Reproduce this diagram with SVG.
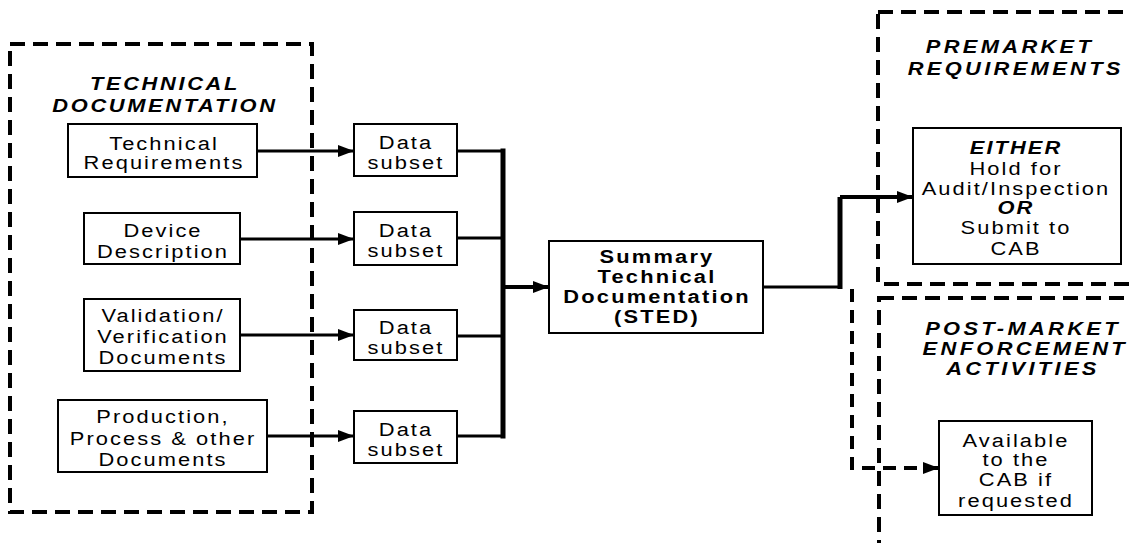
<svg xmlns="http://www.w3.org/2000/svg" width="1131" height="543" viewBox="0 0 1131 543">
<style>
.bg{fill:#fff}
.grp{fill:none;stroke:#000;stroke-width:4;stroke-dasharray:15 8}
.box{fill:#fff;stroke:#000;stroke-width:2}
.t{font-family:"Liberation Sans",Arial,sans-serif;font-size:19px;letter-spacing:1.8px;text-anchor:middle;fill:#000}
.b{font-weight:bold;letter-spacing:1.9px}
.bi{font-weight:bold;font-style:italic}
.ttl{font-family:"Liberation Sans",Arial,sans-serif;font-size:19px;font-weight:bold;font-style:italic;letter-spacing:2.3px;text-anchor:middle;fill:#000}
.ttr{letter-spacing:2.9px}
.ln{fill:none;stroke:#000;stroke-width:3}
.bus{fill:none;stroke:#000;stroke-width:5}
.dl{fill:none;stroke:#000;stroke-width:4;stroke-dasharray:13 8}
</style>
<defs>
<marker id="ah" markerUnits="userSpaceOnUse" markerWidth="16" markerHeight="12" refX="16" refY="6" orient="auto">
<path d="M0,0 L16,6 L0,12 z" fill="#000"/>
</marker>
</defs>
<rect class="bg" x="0" y="0" width="1131" height="543"/>

<g id="technical-documentation">
<rect class="grp" x="10" y="44" width="302" height="468"/>
<text class="ttl" transform="translate(165 0) scale(1.15 1)"><tspan x="0" y="90">TECHNICAL</tspan><tspan x="0" y="112">DOCUMENTATION</tspan></text>
</g>
<g id="premarket">
<rect class="grp" x="878" y="12" width="300" height="272"/>
<text class="ttl ttr" transform="translate(1010 0) scale(1.15 1)"><tspan x="0" y="53">PREMARKET</tspan><tspan x="5" y="75">REQUIREMENTS</tspan></text>
</g>
<g id="postmarket">
<rect class="grp" x="879" y="298" width="300" height="300"/>
<text class="ttl ttr" transform="translate(1023 0) scale(1.15 1)"><tspan x="0" y="335">POST-MARKET</tspan><tspan x="2" y="355">ENFORCEMENT</tspan><tspan x="0" y="375">ACTIVITIES</tspan></text>
</g>

<g id="connectors">
<path class="ln" d="M257,151 H354" marker-end="url(#ah)"/>
<path class="ln" d="M240,239 H354" marker-end="url(#ah)"/>
<path class="ln" d="M240,335 H354" marker-end="url(#ah)"/>
<path class="ln" d="M267,436 H354" marker-end="url(#ah)"/>
<path class="ln" d="M457,151 H503"/>
<path class="ln" d="M457,238 H503"/>
<path class="ln" d="M457,336 H503"/>
<path class="ln" d="M457,436 H503"/>
<path class="bus" d="M503,148.5 V438.5"/>
<path class="ln" d="M503,287 H549" marker-end="url(#ah)" style="stroke-width:4"/>
<path class="ln" d="M763,287 H840"/>
<path class="bus" d="M840,289 V197"/>
<path class="ln" d="M840,197 H913" marker-end="url(#ah)" style="stroke-width:4"/>
<path class="dl" d="M852,289 V468 H939" marker-end="url(#ah)"/>
</g>

<g id="technical-requirements">
<rect class="box" x="68" y="124" width="189" height="53"/>
<text class="t" transform="translate(164 0) scale(1.15 1)"><tspan x="0" y="150">Technical</tspan><tspan x="0" y="169">Requirements</tspan></text>
</g>
<g id="device-description">
<rect class="box" x="84" y="213" width="156" height="51"/>
<text class="t" transform="translate(163 0) scale(1.15 1)"><tspan x="0" y="237">Device</tspan><tspan x="0" y="258">Description</tspan></text>
</g>
<g id="validation">
<rect class="box" x="84" y="299" width="156" height="72"/>
<text class="t" transform="translate(163 0) scale(1.15 1)"><tspan x="0" y="322">Validation/</tspan><tspan x="0" y="343">Verification</tspan><tspan x="0" y="364">Documents</tspan></text>
</g>
<g id="production">
<rect class="box" x="58" y="400" width="209" height="72"/>
<text class="t" transform="translate(163 0) scale(1.15 1)"><tspan x="0" y="423">Production,</tspan><tspan x="0" y="445">Process &amp; other</tspan><tspan x="0" y="466">Documents</tspan></text>
</g>

<g id="data-subset-1">
<rect class="box" x="354" y="124" width="103" height="52"/>
<text class="t" transform="translate(406 0) scale(1.15 1)"><tspan x="0" y="149">Data</tspan><tspan x="0" y="169">subset</tspan></text>
</g>
<g id="data-subset-2">
<rect class="box" x="354" y="212" width="103" height="53"/>
<text class="t" transform="translate(406 0) scale(1.15 1)"><tspan x="0" y="237">Data</tspan><tspan x="0" y="257">subset</tspan></text>
</g>
<g id="data-subset-3">
<rect class="box" x="354" y="310" width="103" height="50"/>
<text class="t" transform="translate(406 0) scale(1.15 1)"><tspan x="0" y="334">Data</tspan><tspan x="0" y="354">subset</tspan></text>
</g>
<g id="data-subset-4">
<rect class="box" x="354" y="411" width="103" height="52"/>
<text class="t" transform="translate(406 0) scale(1.15 1)"><tspan x="0" y="436">Data</tspan><tspan x="0" y="456">subset</tspan></text>
</g>

<g id="sted">
<rect class="box" x="549" y="241" width="214" height="92"/>
<text class="t b" transform="translate(657 0) scale(1.15 1)"><tspan x="0" y="263">Summary</tspan><tspan x="0" y="283">Technical</tspan><tspan x="0" y="303">Documentation</tspan><tspan x="0" y="323">(STED)</tspan></text>
</g>

<g id="either-box">
<rect class="box" x="913" y="128" width="208" height="136"/>
<text class="t" transform="translate(1016 0) scale(1.15 1)"><tspan class="bi" x="0" y="154">EITHER</tspan><tspan x="0" y="175">Hold for</tspan><tspan x="0" y="195">Audit/Inspection</tspan><tspan class="bi" x="0" y="214">OR</tspan><tspan x="0" y="234">Submit to</tspan><tspan x="0" y="255">CAB</tspan></text>
</g>

<g id="available-box">
<rect class="box" x="939" y="421" width="153" height="94"/>
<text class="t" transform="translate(1016 0) scale(1.15 1)"><tspan x="0" y="447">Available</tspan><tspan x="0" y="466">to the</tspan><tspan x="0" y="486">CAB if</tspan><tspan x="0" y="507">requested</tspan></text>
</g>
</svg>
